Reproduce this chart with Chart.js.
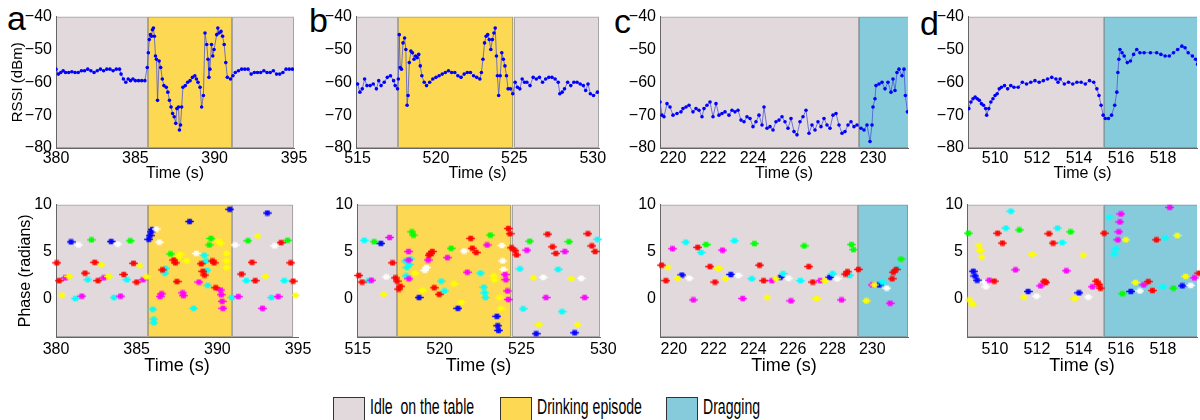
<!DOCTYPE html>
<html>
<head>
<meta charset="utf-8">
<script src="https://cdn.jsdelivr.net/npm/chart.js@4.4.1/dist/chart.umd.min.js"></script>
<style>
  body { margin: 0; width: 1200px; height: 420px; position: relative; overflow: hidden; background: #fff;
         font-family: "Liberation Sans", Arial, sans-serif; }
  canvas { position: absolute; }
  .letter { position: absolute; font-family: "Liberation Sans", Arial, sans-serif; font-size: 34px; line-height: 34px; color: #000; }
  .box { position: absolute; top: 397px; width: 30px; height: 28px; border: 1px solid #333; }
  .lab { position: absolute; top: 396px; font-size: 22px; line-height: 22px; white-space: pre;
         transform: scaleX(0.64); transform-origin: left top; color: #000; }
</style>
</head>
<body>
<div class="letter" style="left:7px;top:1px">a</div>
<div class="letter" style="left:309px;top:3px">b</div>
<div class="letter" style="left:614px;top:4px">c</div>
<div class="letter" style="left:920px;top:6px">d</div>

<script>
// ---- RSSI traces (time s, dBm) ----
const rssiA = [
  [380.0,-56],[380.15,-57.5],[380.3,-57],[380.45,-56.5],[380.6,-57],[380.8,-57],[381.0,-56.8],[381.2,-57],
  [381.4,-57],[381.6,-56.5],[381.8,-56.5],[382.0,-56],[382.2,-56.5],[382.4,-57],[382.6,-56.5],[382.8,-56],
  [383.0,-56.5],[383.2,-56],[383.4,-56],[383.6,-56.5],[383.8,-56],[384.0,-56],[384.1,-57.5],[384.25,-59],
  [384.4,-60],[384.55,-59],[384.7,-59.5],[384.85,-59],[385.0,-59.5],[385.2,-59.5],[385.4,-59.5],[385.6,-59.5],
  [385.75,-55.5],[385.82,-51],[385.88,-47],[385.95,-45.5],[386.02,-46],[386.08,-44],[386.14,-43.5],[386.2,-46],
  [386.27,-52],[386.33,-53],[386.4,-65.5],[386.5,-53.5],[386.6,-55.5],[386.7,-59],[386.8,-61],[386.95,-61.5],
  [387.05,-63],[387.15,-65.5],[387.25,-67.5],[387.35,-69.5],[387.45,-70.5],[387.55,-72.5],[387.62,-68],
  [387.72,-67.5],[387.78,-74.5],[387.85,-73],[387.92,-67.5],[388.0,-61.5],[388.15,-61],[388.3,-60],
  [388.45,-59.5],[388.6,-58.5],[388.75,-58],[388.85,-59],[388.95,-60],[389.08,-61.5],[389.18,-67.5],
  [389.29,-64],[389.39,-45],[389.5,-48.5],[389.58,-53],[389.64,-58.5],[389.7,-56],[389.8,-48.5],[389.88,-52],
  [389.96,-50],[390.13,-45.5],[390.2,-43.5],[390.28,-45],[390.4,-44.5],[390.5,-46],[390.6,-48.5],[390.7,-54],
  [390.8,-58.5],[391.0,-59],[391.15,-58],[391.3,-57],[391.5,-56.5],[391.7,-56],[391.9,-56],[392.1,-56],
  [392.3,-57.5],[392.5,-57],[392.7,-57],[392.9,-57],[393.1,-56.5],[393.3,-57],[393.5,-57],[393.7,-56.5],
  [393.9,-57.5],[394.1,-57.5],[394.3,-57],[394.5,-56],[394.7,-56],[394.9,-56]
];
const rssiB = [
  [515.0,-60.5],[515.15,-63],[515.3,-62],[515.45,-59],[515.6,-61],[515.8,-61],[516.0,-60.5],[516.2,-62],
  [516.35,-59.5],[516.5,-61],[516.7,-60],[516.9,-58.5],[517.1,-58],[517.3,-59.5],[517.4,-61],[517.55,-62],
  [517.6,-59],[517.66,-45.5],[517.72,-55.5],[517.8,-56],[517.9,-48],[518.0,-46.5],[518.08,-50],[518.16,-67],
  [518.22,-64],[518.3,-54],[518.4,-50.5],[518.5,-51],[518.6,-53],[518.7,-52],[518.8,-52.5],[518.9,-51.5],
  [519.0,-55],[519.1,-58],[519.25,-60],[519.4,-61],[519.6,-60],[519.8,-59],[520.0,-58.5],[520.2,-58],
  [520.4,-57.5],[520.6,-57],[520.8,-56.5],[521.0,-57],[521.2,-57],[521.4,-58],[521.6,-58.5],[521.8,-57.5],
  [522.0,-57],[522.2,-57],[522.4,-58],[522.6,-58.5],[522.8,-59],[522.9,-57],[523.0,-53],[523.1,-48],
  [523.2,-46],[523.3,-45.5],[523.4,-47],[523.5,-50],[523.6,-47],[523.7,-45],[523.78,-43.5],[523.86,-52],
  [523.92,-58],[524.0,-64],[524.1,-58],[524.2,-51],[524.3,-53],[524.4,-55],[524.5,-58],[524.6,-62],
  [524.75,-62],[524.9,-63.5],[525.05,-60],[525.2,-61.5],[525.35,-62],[525.5,-59],[525.65,-60],[525.8,-60],
  [526.0,-61],[526.2,-58.5],[526.4,-59],[526.6,-58.5],[526.8,-60],[527.0,-59],[527.2,-58.5],[527.4,-58.5],
  [527.6,-59],[527.8,-60],[527.9,-63.5],[528.05,-63],[528.2,-62],[528.4,-60],[528.6,-61],[528.8,-60],
  [529.0,-60],[529.2,-60.5],[529.4,-61],[529.55,-62.5],[529.7,-60.5],[529.85,-63.5],[530.05,-64],[530.3,-63]
];
const rssiC = [
  [219.35,-66],[219.45,-70],[219.55,-70.5],[219.7,-66.5],[219.85,-67.5],[220.0,-70],[220.2,-69.5],[220.4,-69],
  [220.5,-68],[220.65,-67.5],[220.8,-67],[221.0,-69],[221.15,-68],[221.3,-68.5],[221.45,-70.5],[221.55,-68],
  [221.7,-67],[221.85,-66],[222.0,-70.5],[222.15,-66.5],[222.3,-70],[222.45,-69.5],[222.6,-69],[222.8,-70],
  [222.95,-68.5],[223.1,-69],[223.25,-68.5],[223.4,-71.5],[223.55,-72],[223.7,-70.5],[223.85,-71],[224.0,-73.5],
  [224.15,-72],[224.3,-70],[224.45,-73],[224.55,-67.5],[224.7,-74],[224.85,-73.5],[225.0,-74.5],[225.15,-72],
  [225.3,-71.5],[225.45,-70.5],[225.6,-72],[225.75,-74],[225.9,-71],[226.05,-75],[226.2,-76],[226.35,-72],
  [226.5,-70.5],[226.65,-68.5],[226.8,-75.5],[226.95,-73],[227.1,-74.5],[227.25,-72],[227.4,-73.5],[227.55,-71],
  [227.7,-73],[227.85,-74],[228.0,-70],[228.15,-69.5],[228.3,-73],[228.45,-75.5],[228.6,-75],[228.75,-73],
  [228.9,-72],[229.05,-73.5],[229.2,-73],[229.4,-74],[229.55,-74.5],[229.7,-73],[229.85,-78],[229.95,-73],
  [230.0,-67.5],[230.1,-65],[230.15,-61],[230.3,-60.5],[230.45,-60],[230.6,-62],[230.75,-60],[230.9,-63],
  [231.0,-59],[231.1,-62.5],[231.2,-57],[231.3,-56],[231.45,-58],[231.55,-56],[231.62,-64],[231.72,-69]
];
const rssiD = [
  [508.75,-68],[508.85,-66],[508.95,-65],[509.05,-64.5],[509.15,-65],[509.25,-65.5],[509.35,-66.5],[509.45,-67],
  [509.55,-68],[509.6,-70],[509.7,-68],[509.8,-66],[509.9,-65],[510.0,-64],[510.1,-63.5],[510.2,-62],
  [510.3,-61.5],[510.45,-61],[510.6,-62],[510.75,-61],[510.9,-61.5],[511.1,-61.5],[511.3,-60],[511.5,-60.5],
  [511.7,-60],[511.9,-59.5],[512.1,-60],[512.3,-59.5],[512.5,-59],[512.7,-58.5],[512.9,-59],[513.0,-60],
  [513.1,-59],[513.3,-60.5],[513.5,-60],[513.7,-60.5],[513.9,-60],[514.1,-60],[514.3,-60.5],[514.5,-59.5],
  [514.7,-60],[514.85,-62],[514.95,-64],[515.05,-67],[515.15,-70],[515.25,-71],[515.4,-71],[515.55,-70],
  [515.7,-67],[515.8,-63],[515.85,-57],[515.9,-53],[515.95,-50],[516.05,-51],[516.15,-52],[516.3,-54],
  [516.45,-53.5],[516.6,-51.5],[516.75,-50],[516.9,-51],[517.1,-51],[517.4,-51],[517.7,-51],[517.9,-51.5],
  [518.1,-52],[518.3,-52],[518.5,-51],[518.7,-50],[518.9,-49],[519.05,-49.5],[519.2,-51],[519.4,-52],
  [519.55,-53],[519.65,-54.5]
];

// ---- phase clusters (time s, radians), one list per tag colour ----
const aBlue = [[380.93,6.03],[383.42,6.07],[385.75,6.3],[385.83,6.7],[385.9,7.1],[385.97,7.35],[388.28,8.2],[390.77,9.5],[393.1,9.1]];
const aGreen = [[382.2,6.25],[384.6,6.15],[387.1,4.75],[389.5,5.7],[389.6,6.4],[391.9,6.15],[394.35,6.2]];
const aWhite = [[381.4,5.7],[383.83,5.8],[386.2,7.4],[386.4,6.0],[388.7,4.8],[391.1,5.7],[393.55,5.6]];
const aRed = [[380.05,3.8],[380.2,1.9],[381.8,2.7],[382.4,3.85],[382.6,1.9],[384.2,2.55],[384.8,3.75],[385.0,1.75],
  [386.6,3.05],[387.3,4.1],[387.4,3.8],[387.5,1.8],[389.0,3.7],[389.1,2.9],[389.2,2.5],[389.7,4.0],[389.8,3.8],
  [389.9,1.15],[391.5,2.6],[392.15,3.85],[392.35,1.9],[393.95,5.95],[394.55,3.8],[394.7,1.85],[395.5,1.85]];
const aYellow = [[380.37,0.35],[380.8,2.35],[382.8,3.6],[383.25,2.35],[385.2,3.5],[385.6,2.3],[387.6,4.4],[387.7,4.7],
  [388.1,4.0],[390.1,6.1],[390.2,5.9],[390.55,4.8],[390.56,4.0],[390.57,3.3],[392.5,6.65],[392.98,2.35],[394.85,0.35],[395.6,0.35]];
const aMagenta = [[380.58,2.2],[381.6,0.25],[382.96,2.2],[384.0,0.25],[385.4,2.0],[386.45,0.2],[386.55,0.5],[387.85,0.6],
  [387.9,0.3],[388.86,1.75],[390.2,0.9],[390.25,0.4],[390.3,-0.3],[390.35,-1.05],[391.3,0.2],[392.8,-1.05],[393.77,0.2]];
const aCyan = [[381.2,0],[381.97,2.0],[383.6,0.1],[384.4,2.0],[386.0,-1.15],[386.06,-2.2],[386.07,-2.6],[386.75,2.7],
  [386.8,3.2],[388.53,-1.05],[389.2,4.6],[389.3,4.0],[389.35,3.0],[389.4,1.4],[390.9,0.1],[391.8,1.9],[393.35,0.1],[394.15,1.9]];

const bBlue = [[516.41,5.87],[518.74,0.1],[521.12,-1.05],[523.5,-1.9],[523.55,-2.9],[523.6,-3.4],[525.9,-3.75],[528.25,-3.65]];
const bGreen = [[516.0,6.05],[518.3,7.1],[518.4,6.75],[520.7,5.35],[523.1,6.75],[525.5,6.1],[527.9,6.05]];
const bWhite = [[516.74,2.3],[519.1,3.0],[519.2,3.3],[521.5,5.05],[523.8,5.65],[523.85,4.0],[523.9,3.1],[526.33,2.25],[528.65,2.15]];
const bRed = [[515.06,2.45],[515.26,1.75],[517.12,3.8],[517.3,2.2],[517.4,1.85],[517.5,1.0],[517.6,1.3],[519.35,4.6],
  [519.45,4.8],[519.55,5.0],[519.67,1.15],[519.97,0.45],[521.9,6.4],[522.0,5.35],[522.23,4.9],[524.2,7.45],[524.3,6.9],
  [524.4,5.4],[524.6,5.1],[524.7,4.65],[526.6,6.85],[526.9,5.5],[527.1,4.8],[529.06,6.9],[529.3,5.6],[529.5,5.0]];
const bYellow = [[516.58,0.45],[518.5,2.7],[518.96,0.87],[520.88,1.57],[521.32,-0.4],[523.3,2.4],[523.35,2.0],[523.65,0.1],
  [523.75,-1.1],[525.73,2.2],[526.07,-2.8],[528.05,2.1],[528.43,-2.8]];
const bMagenta = [[515.83,1.95],[516.94,6.5],[518.1,5.0],[518.11,4.1],[518.12,2.1],[519.3,4.1],[520.48,4.35],[521.69,2.8],
  [522.9,5.7],[524.0,2.55],[524.05,2.0],[524.15,0.8],[524.2,-0.1],[525.33,5.15],[526.5,0.1],[527.65,5.0],[528.86,0.1]];
const bCyan = [[515.4,6.2],[515.67,1.9],[517.9,4.0],[517.95,2.4],[518.0,3.3],[518.15,3.6],[518.2,4.2],[520.1,1.85],[520.3,0.8],
  [522.5,2.7],[522.7,1.2],[522.75,0.6],[522.8,0.1],[524.9,3.15],[525.1,-1.1],[527.24,3.1],[527.48,-1.4],[529.65,6.3]];

const cRed = [[219.38,3.55],[219.6,1.9],[221.2,5.45],[221.82,3.4],[222.07,1.75],[224.32,3.55],[224.52,1.9],[226.8,3.4],
  [227.0,1.75],[228.65,2.6],[228.75,2.85],[229.3,3.1],[231.0,2.1],[231.06,2.8],[231.2,3.1],[232.5,1.8]];
const cGreen = [[221.62,5.75],[224.06,5.85],[226.57,5.6],[228.95,5.75],[229.05,5.2],[231.45,4.2]];
const cWhite = [[220.78,2.15],[223.25,2.45],[225.78,2.15],[228.23,2.1],[230.73,1.1]];
const cBlue = [[220.4,2.5],[222.87,2.55],[225.36,2.25],[227.85,2.25],[230.34,1.45]];
const cYellow = [[219.7,3.3],[220.2,2.15],[222.25,3.2],[222.6,2.1],[224.7,0.1],[225.15,2.1],[227.2,0],[227.6,1.9],[229.7,-0.25],[230.1,1.45]];
const cMagenta = [[219.93,5.3],[220.98,-0.15],[222.45,5.15],[223.47,0],[224.94,1.9],[225.9,-0.25],[227.38,1.9],[228.45,-0.15],[230.0,1.45],[230.9,-0.5]];
const cCyan = [[220.6,6.0],[221.37,4.9],[223.05,6.15],[223.93,2.1],[225.5,2.65],[226.38,1.9],[228.0,2.65],[228.87,2.45],[230.5,1.75],[231.3,3.3]];

const dGreen = [[508.73,6.95],[511.16,7.3],[513.6,7.1],[516.07,0.5],[518.5,1.1]];
const dRed = [[509.97,1.85],[510.13,6.95],[510.36,5.9],[512.35,1.85],[512.42,1.7],[512.57,6.9],[512.77,5.9],[514.83,1.85],
  [514.95,1.5],[515.02,1.1],[515.2,6.95],[517.3,1.8],[517.5,0.85],[517.69,6.25],[519.71,2.7]];
const dCyan = [[510.52,7.5],[510.76,9.3],[512.98,7.5],[513.2,5.95],[515.44,8.65],[515.67,4.75],[515.75,5.3],[518.0,1.25],[518.11,6.45]];
const dBlue = [[508.97,2.9],[509.05,2.4],[509.15,1.95],[511.58,0.75],[514.0,0.6],[516.47,0.75],[518.92,1.35]];
const dYellow = [[508.8,-0.15],[508.94,-0.6],[509.24,5.65],[509.3,5.1],[509.37,4.4],[511.38,0.15],[511.77,4.7],[513.8,0],
  [514.2,4.6],[516.23,6.25],[516.69,1.7],[518.68,6.7],[519.08,2.35]];
const dWhite = [[509.52,1.75],[509.57,1.25],[511.98,0.25],[514.44,0.15],[516.9,0.8],[519.32,1.4]];
const dMagenta = [[509.73,1.95],[510.98,3.05],[512.17,1.35],[513.4,2.95],[514.64,1.25],[515.85,6.25],[515.9,7.1],[515.95,8.15],
  [516.0,9.0],[517.08,1.45],[518.32,9.7],[519.5,2.2]];

// ---- activity episodes [from, to, kind] ----
const epRssiA = [[380,385.8,'idle'],[385.8,391.1,'drink'],[391.1,395,'idle']];
const epPhaseA = [[380,385.7,'idle'],[385.7,390.9,'drink'],[390.9,394.7,'idle']];
const epRssiB = [[514.9,517.6,'idle'],[517.6,524.95,'drink'],[524.95,530.4,'idle']];
const epPhaseB = [[514.95,517.42,'idle'],[517.42,524.4,'drink'],[524.4,529.8,'idle']];
const epC = [[219.3,229.3,'idle'],[229.3,231.8,'drag']];
const epD = [[508.6,515.17,'idle'],[515.17,519.7,'drag']];

// ---- tick labels ----
const rssiTicks = [-80, -70, -60, -50, -40];
const phaseTicks = [0, 5, 10];
const ticksA = [380, 385, 390, 395];
const ticksB = [515, 520, 525, 530];
const ticksC = [220, 222, 224, 226, 228, 230];
const ticksD = [510, 512, 514, 516, 518];

const legendLabels = ['Idle  on the table', 'Drinking episode', 'Dragging'];
const legendKinds = ['idle', 'drink', 'drag'];

const shadeColors = { idle: '#e1d9db', drink: '#fdd853', drag: '#86cbdb' };
const tagColors = { blue: '#0000ff', green: '#00ff00', white: '#ffffff', red: '#ff0000', yellow: '#ffff00', magenta: '#ff00ff', cyan: '#00ffff' };

Chart.defaults.font.family = '"Liberation Sans", Arial, sans-serif';
Chart.defaults.color = '#000';

// background episodes behind the data
const shade = {
  id: 'shade',
  beforeDraw(chart, args, opts) {
    const { ctx, chartArea: a, scales: { x } } = chart;
    ctx.save();
    ctx.beginPath();
    ctx.rect(a.left, a.top, a.width, a.height);
    ctx.clip();
    opts.regions.forEach(([from, to, kind]) => {
      const x0 = x.getPixelForValue(from), x1 = x.getPixelForValue(to);
      ctx.fillStyle = shadeColors[kind];
      ctx.fillRect(x0, a.top, x1 - x0, a.height);
      ctx.strokeStyle = 'rgba(120,120,120,0.55)';
      ctx.lineWidth = 1;
      ctx.strokeRect(Math.round(x0) + 0.5, a.top + 0.5, Math.round(x1 - x0) - 1, a.height - 1);
    });
    ctx.restore();
  }
};

// small dense blob of "+" marks like the original scatter
function crossMark(color) {
  const c = document.createElement('canvas');
  c.width = 9; c.height = 7;
  const g = c.getContext('2d');
  g.strokeStyle = color;
  g.lineWidth = 1.5;
  [3, 4.5, 6].forEach(cx => {
    g.beginPath();
    g.moveTo(cx - 2.8, 3.5); g.lineTo(cx + 2.8, 3.5);
    g.moveTo(cx, 0.8); g.lineTo(cx, 6.2);
    g.stroke();
  });
  return c;
}
const marks = {};
Object.keys(tagColors).forEach(k => { marks[k] = crossMark(tagColors[k]); });

const toXY = arr => arr.map(([x, y]) => ({ x, y }));
const minus = v => (v < 0 ? '\u2212' + Math.abs(v) : String(v));

function rssiSet(arr) {
  return [{
    data: toXY(arr), showLine: true, borderColor: 'rgba(70,80,215,0.75)', borderWidth: 1,
    pointRadius: 1.8, pointBackgroundColor: '#0000ff', pointBorderWidth: 0
  }];
}
function phaseSets(lists) {
  return Object.keys(lists).map(k => ({
    data: toXY(lists[k]), pointStyle: marks[k], pointRadius: 4, clip: false
  }));
}

const ROW = {
  rssi:  { top: 15,  h: 133, T: 12, B: 35, font: 16, pad: 1, titleFont: 16, yMin: -80, yMax: -40, yTicks: rssiTicks, yTitle: 'RSSI (dBm)', yTitleFont: 15, yTitlePad: 9 },
  phase: { top: 203, h: 134, T: 12, B: 40, font: 16, pad: 3, titleFont: 18, yMin: -4.1, yMax: 10, yTicks: phaseTicks, yTitle: 'Phase (radians)', yTitleFont: 16, yTitlePad: 16 }
};

function build(p) {
  const r = ROW[p.row];
  const cv = document.createElement('canvas');
  cv.width = p.L + p.w + p.R;
  cv.height = r.T + r.h + r.B;
  cv.style.left = (p.left - p.L) + 'px';
  cv.style.top = (r.top - r.T) + 'px';
  document.body.appendChild(cv);
  new Chart(cv, {
    type: 'scatter',
    data: { datasets: p.datasets },
    plugins: [shade],
    options: {
      responsive: false,
      animation: false,
      layout: { autoPadding: false, padding: { left: 0, top: r.T, right: p.R, bottom: 0 } },
      plugins: { legend: { display: false }, tooltip: { enabled: false }, shade: { regions: p.regions } },
      scales: {
        x: {
          type: 'linear', min: p.xMin, max: p.xMax,
          grid: { display: false, drawTicks: false },
          border: { color: '#666', width: 1 },
          afterBuildTicks: s => { s.ticks = p.xTicks.map(v => ({ value: v })); },
          afterFit: s => { s.height = r.B; },
          ticks: { font: { size: r.font }, padding: r.pad, maxRotation: 0, autoSkip: false, callback: v => String(v) },
          title: { display: true, text: 'Time (s)', font: { size: r.titleFont }, padding: 0 }
        },
        y: {
          type: 'linear', min: r.yMin, max: r.yMax,
          grid: { display: false, drawTicks: false },
          border: { color: '#666', width: 1 },
          afterBuildTicks: s => { s.ticks = r.yTicks.map(v => ({ value: v })); },
          afterFit: s => { s.width = p.L; },
          ticks: { font: { size: r.font }, padding: 4, autoSkip: false, callback: minus },
          title: { display: !!p.yTitle, text: r.yTitle, font: { size: r.yTitleFont }, padding: { top: r.yTitlePad, bottom: 0 } }
        }
      }
    }
  });
}

// top row: RSSI
build({ row: 'rssi', left: 56, w: 238, L: 56, R: 20, xMin: 380, xMax: 395, xTicks: ticksA, regions: epRssiA, datasets: rssiSet(rssiA), yTitle: true });
build({ row: 'rssi', left: 356, w: 243, L: 40, R: 20, xMin: 514.9, xMax: 530.4, xTicks: ticksB, regions: epRssiB, datasets: rssiSet(rssiB) });
build({ row: 'rssi', left: 660, w: 248, L: 40, R: 20, xMin: 219.35, xMax: 231.75, xTicks: ticksC, regions: epC, datasets: rssiSet(rssiC) });
build({ row: 'rssi', left: 968, w: 229, L: 40, R: 3, xMin: 508.71, xMax: 519.62, xTicks: ticksD, regions: epD, datasets: rssiSet(rssiD) });

// bottom row: phase
build({ row: 'phase', left: 56, w: 242, L: 56, R: 20, xMin: 380, xMax: 395, xTicks: ticksA, regions: epPhaseA, yTitle: true,
  datasets: phaseSets({ red: aRed, yellow: aYellow, magenta: aMagenta, cyan: aCyan, green: aGreen, white: aWhite, blue: aBlue }) });
build({ row: 'phase', left: 357, w: 243, L: 40, R: 20, xMin: 514.95, xMax: 529.8, xTicks: ticksB, regions: epPhaseB,
  datasets: phaseSets({ red: bRed, yellow: bYellow, magenta: bMagenta, cyan: bCyan, green: bGreen, white: bWhite, blue: bBlue }) });
build({ row: 'phase', left: 660, w: 248, L: 40, R: 20, xMin: 219.3, xMax: 231.8, xTicks: ticksC, regions: epC,
  datasets: phaseSets({ red: cRed, yellow: cYellow, magenta: cMagenta, cyan: cCyan, green: cGreen, white: cWhite, blue: cBlue }) });
build({ row: 'phase', left: 967, w: 230, L: 40, R: 3, xMin: 508.67, xMax: 519.62, xTicks: ticksD, regions: epD,
  datasets: phaseSets({ red: dRed, yellow: dYellow, magenta: dMagenta, cyan: dCyan, green: dGreen, white: dWhite, blue: dBlue }) });

// legend
const legendX = [333, 500, 666];
legendLabels.forEach((text, i) => {
  const box = document.createElement('div');
  box.className = 'box';
  box.style.left = legendX[i] + 'px';
  box.style.background = shadeColors[legendKinds[i]];
  document.body.appendChild(box);
  const lab = document.createElement('div');
  lab.className = 'lab';
  lab.style.left = (legendX[i] + 37) + 'px';
  lab.textContent = text;
  document.body.appendChild(lab);
});
</script>
</body>
</html>
